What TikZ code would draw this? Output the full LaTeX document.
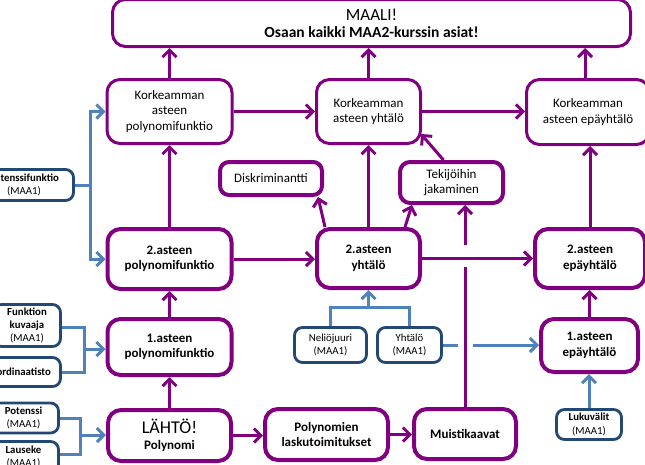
\documentclass[tikz,border=0pt]{standalone}
\usepackage{fontspec}
\setmainfont{Carlito}
\usetikzlibrary{arrows.meta}
\definecolor{pur}{RGB}{128,0,128}
\definecolor{lblue}{RGB}{79,129,189}
\definecolor{dblue}{RGB}{35,72,118}
\begin{document}
\begin{tikzpicture}[x=1pt,y=-1pt,
  box/.style={draw=pur, line width=3pt, rounded corners=13pt, fill=white, align=center, inner sep=0pt, font=\fontsize{13}{15.8}\selectfont},
  tbox/.style={box, line width=4pt, font=\fontsize{13}{15.5}\selectfont\bfseries},
  bbox/.style={draw=dblue, line width=2.8pt, rounded corners=8pt, fill=white, align=center, inner sep=0pt, font=\fontsize{10.8}{13.3}\selectfont},
  tipstyle/.style={-{Straight Barb[length=7pt,width=14pt]}},
  parr/.style={draw=pur, line width=3pt, tipstyle},
  pline/.style={draw=pur, line width=3pt},
  barr/.style={draw=lblue, line width=3pt, tipstyle},
  bline/.style={draw=lblue, line width=3pt},
]
\useasboundingbox (0,0) rectangle (645,464);
\clip (0,0) rectangle (645,464);
\fill[white] (0,0) rectangle (645,464);

% main purple boxes
\node[box, minimum width=518pt, minimum height=47pt] (maali) at (371.5,23)
  {{\fontsize{17}{18}\selectfont MAALI!}\\[1pt]{\fontsize{15.5}{17}\selectfont\bfseries Osaan kaikki MAA2-kurssin asiat!}};
\node[box, minimum width=125pt, minimum height=64pt] (kpoly) at (169.5,111.5) {Korkeamman\\asteen\\polynomifunktio};
\node[box, minimum width=104pt, minimum height=64pt] (kyht) at (368.5,111.5) {Korkeamman\\asteen yhtälö};
\node[box, minimum width=123pt, minimum height=65pt] (kepa) at (588,112) {Korkeamman\\asteen epäyhtälö};
\node[tbox, font=\fontsize{13}{15.5}\selectfont, rounded corners=9pt, minimum width=102pt, minimum height=33pt] (disk) at (271,178.5) {Diskriminantti};
\node[tbox, font=\fontsize{13}{15.5}\selectfont, rounded corners=10pt, minimum width=103pt, minimum height=41pt] (tek) at (451.5,182.5) {Tekijöihin\\jakaminen};
\node[tbox, minimum width=124pt, minimum height=60pt] (p2) at (169.5,259) {2.asteen\\polynomifunktio};
\node[tbox, minimum width=103pt, minimum height=59pt] (y2) at (368.5,258.5) {2.asteen\\yhtälö};
\node[tbox, minimum width=110pt, minimum height=59pt] (e2) at (590,258.5) {2.asteen\\epäyhtälö};
\node[tbox, minimum width=124pt, minimum height=56pt] (p1) at (169.5,347) {1.asteen\\polynomifunktio};
\node[tbox, minimum width=97pt, minimum height=53pt] (e1) at (589.5,345.5) {1.asteen\\epäyhtälö};
\node[tbox, font=\fontsize{13}{15.5}\selectfont, minimum width=123pt, minimum height=51pt] (start) at (169.5,435.5)
  {{\fontsize{18}{19.5}\selectfont LÄHTÖ!}\\\textbf{Polynomi}};
\node[tbox, minimum width=123pt, minimum height=51pt] (laskut) at (326.5,434.5) {Polynomien\\laskutoimitukset};
\node[tbox, minimum width=102pt, minimum height=50pt] (muisti) at (465,434) {Muistikaavat};

% blue boxes
\node[bbox, minimum width=65pt, minimum height=30pt] (luku) at (589,424.5) {\textbf{Lukuvälit}\\(MAA1)};
\node[bbox, minimum width=72pt, minimum height=35pt] (nelio) at (330.5,345) {Neliöjuuri\\(MAA1)};
\node[bbox, minimum width=64pt, minimum height=35pt] (yhtM) at (409.5,345) {Yhtälö\\(MAA1)};
\node[bbox, minimum width=99pt, minimum height=31pt] (potf) at (24,185) {\textbf{Potenssifunktio}\\(MAA1)};
\node[bbox, minimum width=67pt, minimum height=42pt] (funk) at (27,325.5) {\textbf{Funktion}\\\textbf{kuvaaja}\\(MAA1)};
\node[bbox, minimum width=85pt, minimum height=29pt] (koord) at (18,372) {\textbf{Koordinaatisto}};
\node[bbox, minimum width=70pt, minimum height=30pt] (pot) at (23.5,418) {\textbf{Potenssi}\\(MAA1)};
\node[bbox, minimum width=70pt, minimum height=31pt] (laus) at (23.5,457) {\textbf{Lauseke}\\(MAA1)};

% junction coordinates
\coordinate (bj1) at (90,185);
\coordinate (bj2) at (84,349);
\coordinate (bj3) at (80,435);
\coordinate (bj4) at (368.5,307);
\coordinate (gc) at (458,345);
\coordinate (gd) at (473,345);
\coordinate (ga) at (465,267);
\coordinate (gb) at (465,245);

% purple connectors
\draw[parr] (kpoly.north) -- (kpoly.north |- maali.south);
\draw[parr] (kyht.north) -- (kyht.north |- maali.south);
\draw[parr] ([xshift=-3pt]kepa.north) -- ([xshift=-3pt]kepa.north |- maali.south);
\draw[parr] (kpoly.east) -- (kyht.west);
\draw[parr] (kyht.east) -- (kyht.east -| kepa.west);
\draw[parr] (start.north) -- (p1.south);
\draw[parr] (p1.north) -- (p2.south);
\draw[parr] (p2.north) -- (kpoly.south);
\draw[parr] (p2.east) -- (p2.east -| y2.west);
\draw[parr] (y2.east) -- (e2.west);
\draw[parr] (e1.north) -- (e1.north |- e2.south);
\draw[parr] (e2.north) -- (e2.north |- kepa.south);
\draw[parr] (y2.north) -- (kyht.south);
\draw[parr] ([xshift=10pt]y2.north west) -- ([xshift=-6pt]disk.south east);
\draw[parr] ([xshift=-17pt]y2.north east) -- ([xshift=14pt]tek.south west);
\draw[parr] ([xshift=-8pt]tek.north) -- ([yshift=11pt,xshift=-1pt]kyht.south east);
\draw[pline] (muisti.north) -- (ga);
\draw[parr] (gb) -- (gb |- tek.south);
\draw[parr] (start.east) -- (start.east -| laskut.west);
\draw[parr] (laskut.east) -- (laskut.east -| muisti.west);

% blue connectors
\draw[bline] (potf.east) -- (bj1);
\draw[barr] (bj1) |- (kpoly.west);
\draw[barr] (bj1) |- (p2.west);
\draw[bline] ([yshift=-1.5pt]funk.east) -| (bj2);
\draw[bline] (koord.east) -| (bj2);
\draw[barr] (bj2) -- (bj2 -| p1.west);
\draw[bline] (pot.east) -| (bj3);
\draw[bline] ([yshift=3pt]laus.east) -| (bj3);
\draw[barr] (bj3) -- (bj3 -| start.west);
\draw[bline] (nelio.north) -- (nelio.north |- bj4) -- (yhtM.north |- bj4) -- (yhtM.north);
\draw[barr] (bj4) -- (bj4 |- y2.south);
\draw[bline] (yhtM.east) -- (gc);
\draw[barr] (gd) -- (gd -| e1.west);
\draw[barr] (luku.north) -- (luku.north |- e1.south);
\end{tikzpicture}
\end{document}
